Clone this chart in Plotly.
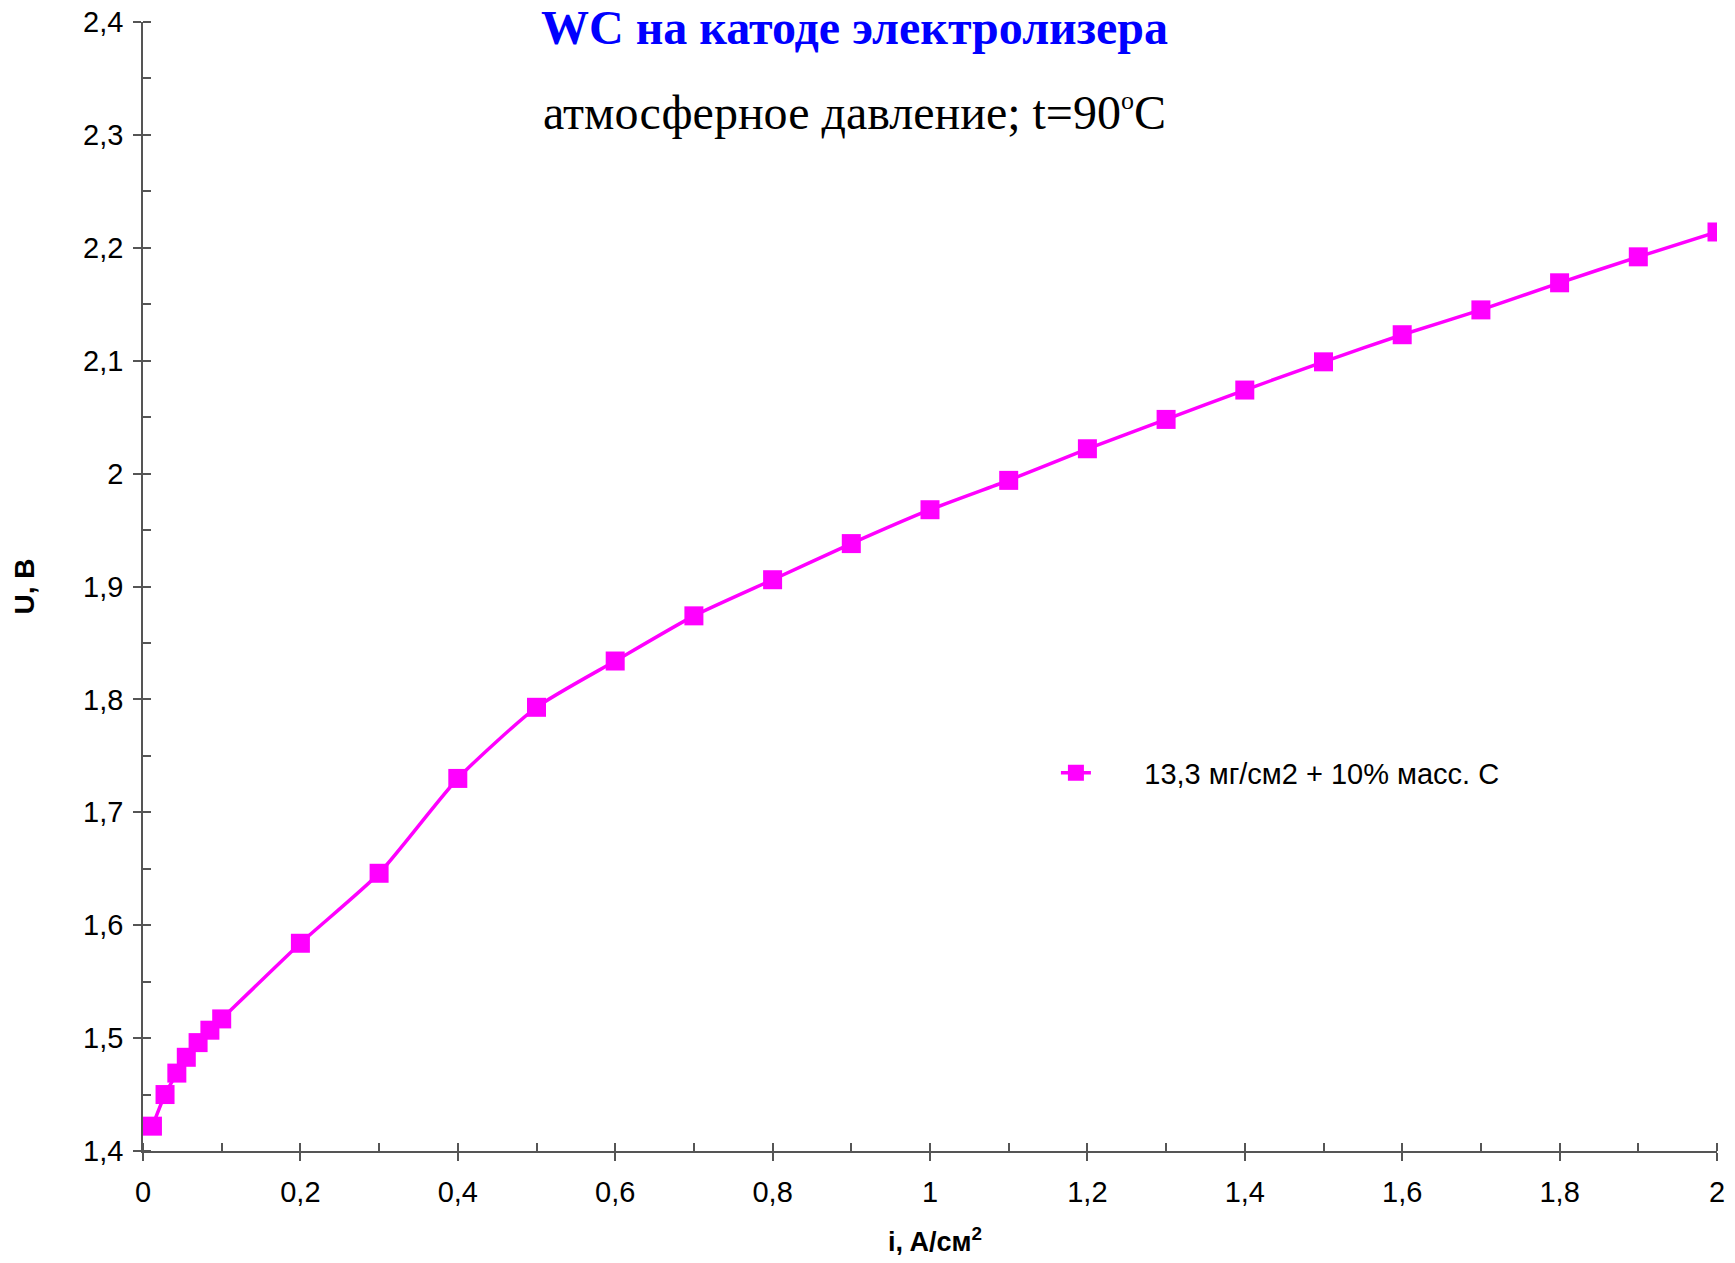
import plotly.graph_objects as go

# Data
current_density = [0.012, 0.028, 0.043, 0.055, 0.07, 0.085, 0.1,
                   0.2, 0.3, 0.4, 0.5, 0.6, 0.7, 0.8, 0.9, 1.0,
                   1.1, 1.2, 1.3, 1.4, 1.5, 1.6, 1.7, 1.8, 1.9, 2.0]
voltage = [1.422, 1.450, 1.469, 1.483, 1.496, 1.507, 1.517,
           1.584, 1.646, 1.730, 1.793, 1.834, 1.874, 1.906, 1.938, 1.968,
           1.994, 2.022, 2.048, 2.074, 2.099, 2.123, 2.145, 2.169, 2.192, 2.214]
series_name = "13,3 мг/см2 + 10% масс. C"

title_text = "WC на катоде электролизера"
subtitle_text = "атмосферное давление; t=90<sup><span style='font-size:26px'>o</span></sup>C"
x_title = "<b>i, A/см<sup>2</sup></b>"
y_title = "<b>U, B</b>"

SANS = "Liberation Sans, Arial, sans-serif"
SERIF = "Liberation Serif, Times New Roman, serif"
AXIS_COLOR = "#555555"
MAGENTA = "#FF00FF"

fig = go.Figure()
fig.add_trace(go.Scatter(
    x=current_density, y=voltage, mode="lines+markers",
    name="\u00a0" * 6 + series_name,
    line=dict(color=MAGENTA, width=3.5, shape="spline", smoothing=0.6),
    marker=dict(symbol="square", size=19, color=MAGENTA),
))

fig.update_layout(
    width=1719, height=1247,
    margin=dict(l=135, r=10, t=14, b=104, autoexpand=False),
    paper_bgcolor="white", plot_bgcolor="white",
    separators=", ",
    font=dict(family=SANS, size=29, color="black"),
    showlegend=True,
    legend=dict(x=0.58, y=0.335, xanchor="left", yanchor="middle",
                bgcolor="rgba(0,0,0,0)", font=dict(family=SANS, size=29)),
    annotations=[
        dict(text="<b>" + title_text + "</b>", xref="paper", yref="paper",
             x=0.452, y=0.995, xanchor="center", yanchor="middle",
             showarrow=False, font=dict(family=SERIF, size=48, color="#0000FF")),
        dict(text=subtitle_text, xref="paper", yref="paper",
             x=0.452, y=0.920, xanchor="center", yanchor="middle",
             showarrow=False, font=dict(family=SERIF, size=48, color="black")),
        dict(text=x_title, xref="paper", yref="paper",
             x=0.503, y=-0.079, xanchor="center", yanchor="middle",
             showarrow=False, font=dict(family=SANS, size=27, color="black")),
    ],
)

fig.update_xaxes(
    range=[0, 2], dtick=0.2, tick0=0, automargin=False,
    showgrid=False, zeroline=False,
    showline=True, linecolor=AXIS_COLOR, linewidth=1.5,
    ticks="outside", ticklen=8, tickwidth=1.5, tickcolor=AXIS_COLOR,
    ticklabelstandoff=6, ticklabeloverflow="allow",
    minor=dict(ticks="inside", dtick=0.1, tick0=0, ticklen=8, tickwidth=1.5, tickcolor=AXIS_COLOR),
    tickfont=dict(family=SANS, size=29),
)
fig.update_yaxes(
    range=[1.4, 2.4], dtick=0.1, tick0=1.4, automargin=False,
    showgrid=False, zeroline=False,
    showline=True, linecolor=AXIS_COLOR, linewidth=1.5,
    ticks="outside", ticklen=8, tickwidth=1.5, tickcolor=AXIS_COLOR,
    ticklabelstandoff=4, ticklabeloverflow="allow",
    minor=dict(ticks="inside", dtick=0.05, tick0=1.4, ticklen=8, tickwidth=1.5, tickcolor=AXIS_COLOR),
    tickfont=dict(family=SANS, size=29),
    title=dict(text=y_title, font=dict(family=SANS, size=28), standoff=40),
)

fig.write_html("out.html")
